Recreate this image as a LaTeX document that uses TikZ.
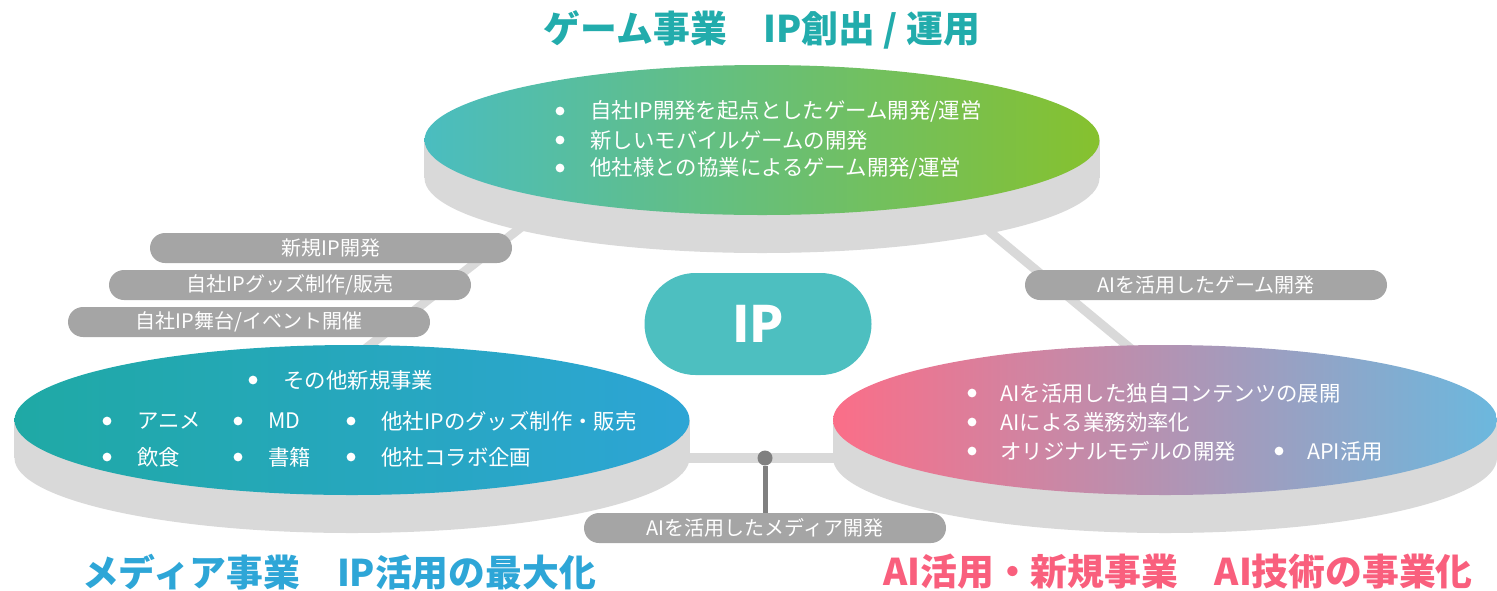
\documentclass[tikz,border=0pt]{standalone}
\usepackage{fontspec}
\setmainfont{Noto Sans CJK JP}
\usetikzlibrary{shapes.geometric,calc}
\definecolor{tealT}{RGB}{34,172,172}
\definecolor{gA}{RGB}{74,189,192}
\definecolor{gB}{RGB}{134,193,46}
\definecolor{mA}{RGB}{31,169,165}
\definecolor{mB}{RGB}{45,165,213}
\definecolor{aA}{RGB}{251,110,136}
\definecolor{aM}{RGB}{196,158,182}
\definecolor{aB}{RGB}{107,184,222}
\definecolor{pillgray}{RGB}{165,165,165}
\definecolor{sidegray}{RGB}{217,217,217}
\definecolor{dotgray}{RGB}{128,128,128}
\definecolor{ipteal}{RGB}{77,191,192}
\definecolor{blueT}{RGB}{46,166,215}
\definecolor{pinkT}{RGB}{249,95,125}
\tikzset{
  face/.style={ellipse, minimum width=337.5pt, minimum height=75pt, inner sep=0pt},
  side/.style={fill=sidegray},
  conn/.style={draw=sidegray, line width=4.5pt},
  pill/.style={fill=pillgray, rounded corners=7.5pt, minimum width=181pt, minimum height=15pt, inner sep=0pt, text=white, font=\fontsize{10pt}{12pt}\selectfont},
  item/.style={anchor=west, text=white, inner sep=0pt, font=\fontsize{10.7pt}{12pt}\selectfont},
  title/.style={font=\bfseries\fontsize{18.4pt}{20pt}\selectfont, inner sep=0pt},
  bul/.style={fill=white},
}
\begin{document}
\begin{tikzpicture}[x=0.5pt,y=-0.5pt]
\useasboundingbox (0,0) rectangle (1497,590);
% connectors (behind)
\coordinate (gl) at (633,140);
\coordinate (ml) at (274,420);
\coordinate (gr) at (879,140);
\coordinate (ar) at (1217,420);
\coordinate (mh) at (352,458);
\coordinate (ah) at (1165,458);
\draw[conn] (gl) -- (ml);
\draw[conn] (gr) -- (ar);
\draw[conn, line width=5pt] (mh) -- (ah);
% disks
\node[face] (game) at (762,140) {};
\fill[side] (game.west) rectangle ([yshift=-19pt]game.east);
\fill[side] ([yshift=-19pt]game.center) ellipse [x radius=168.75pt, y radius=37.5pt];
\shade[left color=gA, right color=gB] (game.center) ellipse [x radius=168.75pt, y radius=37.5pt];
\node[face] (media) at (352,420) {};
\fill[side] (media.west) rectangle ([yshift=-19pt]media.east);
\fill[side] ([yshift=-19pt]media.center) ellipse [x radius=168.75pt, y radius=37.5pt];
\shade[left color=mA, right color=mB] (media.center) ellipse [x radius=168.75pt, y radius=37.5pt];
\node[face, minimum width=332pt] (ai) at (1165,420) {};
\fill[side] (ai.west) rectangle ([yshift=-19pt]ai.east);
\fill[side] ([yshift=-19pt]ai.center) ellipse [x radius=166pt, y radius=37.5pt];
\shade[left color=aA, middle color=aM, right color=aB] (ai.center) ellipse [x radius=166pt, y radius=37.5pt];
% hub
\node[circle, fill=dotgray, minimum size=7.5pt, inner sep=0pt] (hub) at (765,458) {};
% pills
\node[pill] (p1) at (331,248) {新規IP開発};
\node[pill] (p2) at (290,285) {自社IPグッズ制作/販売};
\node[pill] (p3) at (249,322) {自社IP舞台/イベント開催};
\node[pill] (p4) at (1206,285) {AIを活用したゲーム開発};
\node[pill] (p5) at (765,528) {AIを活用したメディア開発};
\draw[dotgray, line width=2.5pt] (hub) -- (p5.north);
% IP
\node[fill=ipteal, rounded corners=25.5pt, minimum width=113.5pt, minimum height=51pt, inner sep=0pt, text=white, font=\bfseries\fontsize{25pt}{26pt}\selectfont] (ip) at (758,324) {IP};
% titles
\node[title, text=tealT] (t1) at (762,30) {ゲーム事業　IP創出 / 運用};
\node[title, text=blueT] (t2) at (339,572) {メディア事業　IP活用の最大化};
\node[title, text=pinkT] (t3) at (1178,572) {AI活用・新規事業　AI技術の事業化};
% game items
\node[item] (g1) at (590,111) {自社IP開発を起点としたゲーム開発/運営};
\node[item] (g2) at (590,140) {新しいモバイルゲームの開発};
\node[item] (g3) at (590,168) {他社様との協業によるゲーム開発/運営};
\foreach \n in {g1,g2,g3} \fill[bul] ([xshift=-15pt]\n.west) circle (2.2pt);
% media items
\node[item] (m0) at (283,380) {その他新規事業};
\node[item] (m1) at (137,421) {アニメ};
\node[item] (m2) at (268,421) {MD};
\node[item] (m3) at (381,421) {他社IPのグッズ制作・販売};
\node[item] (m4) at (137,457) {飲食};
\node[item] (m5) at (268,457) {書籍};
\node[item] (m6) at (381,457) {他社コラボ企画};
\foreach \n in {m0,m1,m2,m3,m4,m5,m6} \fill[bul] ([xshift=-15pt]\n.west) circle (2.2pt);
% ai items
\node[item] (a1) at (1000,393) {AIを活用した独自コンテンツの展開};
\node[item] (a2) at (1000,422) {AIによる業務効率化};
\node[item] (a3) at (1000,451) {オリジナルモデルの開発};
\node[item] (a4) at (1307,451) {API活用};
\foreach \n in {a1,a2,a3,a4} \fill[bul] ([xshift=-14pt]\n.west) circle (2.2pt);
\end{tikzpicture}
\end{document}
